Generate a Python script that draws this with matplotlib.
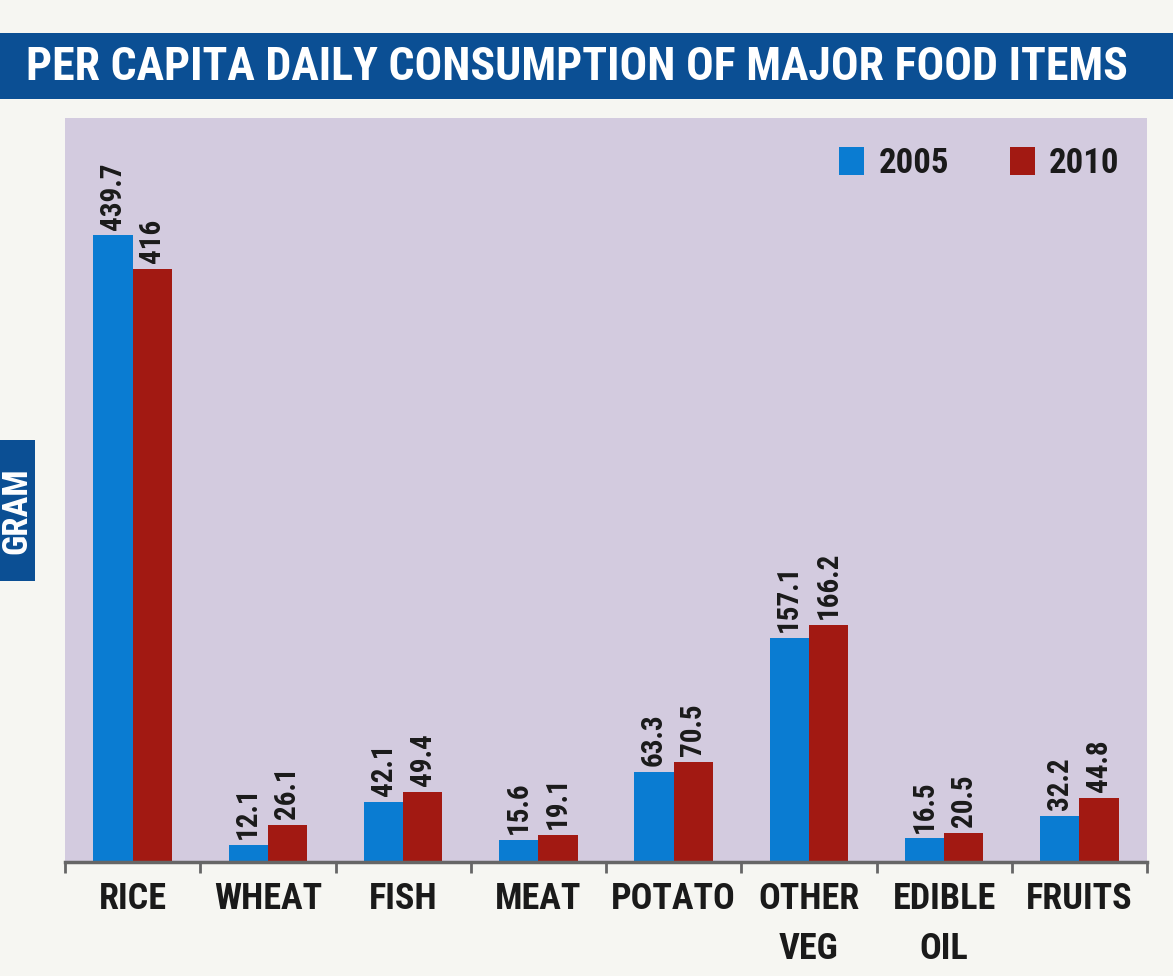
import matplotlib.pyplot as plt
from matplotlib.patches import Rectangle

categories = ['RICE', 'WHEAT', 'FISH', 'MEAT', 'POTATO', 'OTHER\nVEG', 'EDIBLE\nOIL', 'FRUITS']
values_2005 = [439.7, 12.1, 42.1, 15.6, 63.3, 157.1, 16.5, 32.2]
values_2010 = [416, 26.1, 49.4, 19.1, 70.5, 166.2, 20.5, 44.8]
labels_2005 = ['439.7', '12.1', '42.1', '15.6', '63.3', '157.1', '16.5', '32.2']
labels_2010 = ['416', '26.1', '49.4', '19.1', '70.5', '166.2', '20.5', '44.8']

blue = '#0a7cd2'
red = '#a21912'
navy = '#0b4f94'
font = ['Roboto Condensed', 'Archivo Narrow', 'Asap Condensed', 'DejaVu Sans']

fig = plt.figure(figsize=(11.73, 9.76), dpi=100)
fig.patch.set_facecolor('#f6f6f2')

# title bar
fig.patches.append(Rectangle((0, 1 - 99 / 976), 1, 66 / 976, transform=fig.transFigure,
                             facecolor=navy, edgecolor='none'))
fig.text(577 / 1173, 1 - 67 / 976, 'PER CAPITA DAILY CONSUMPTION OF MAJOR FOOD ITEMS',
         color='white', fontsize=33, fontweight='bold', family=font, ha='center', va='center')

# y label box
fig.patches.append(Rectangle((0, 1 - 581 / 976), 35 / 1173, 141 / 976, transform=fig.transFigure,
                             facecolor=navy, edgecolor='none'))
fig.text(17 / 1173, 1 - 511 / 976, 'GRAM', color='white', fontsize=25, fontweight='bold',
         family=font, rotation=90, ha='center', va='center')

ax = fig.add_axes([65 / 1173, 1 - 862 / 976, 1082 / 1173, 744 / 976])
ax.set_facecolor('#d3cbdf')

x = range(len(categories))
w = 0.29
bars1 = ax.bar([i - w / 2 for i in x], values_2005, w, color=blue, label='2005')
bars2 = ax.bar([i + w / 2 for i in x], values_2010, w, color=red, label='2010')

for bars, labs in [(bars1, labels_2005), (bars2, labels_2010)]:
    for b, t in zip(bars, labs):
        ax.text(b.get_x() + b.get_width() / 2, b.get_height() + 4, t, rotation=90,
                ha='center', va='bottom', fontsize=21, fontweight='bold', family=font,
                color='#1a1a1a')

ax.set_xlim(-0.5, 7.5)
ax.set_ylim(0, 522)
ax.set_yticks([])
ax.set_xticks([i + 0.5 for i in range(-1, 8)], minor=False)
ax.set_xticklabels([])
ax.set_xticks(list(x), minor=True)
ax.set_xticklabels(categories, minor=True, fontsize=26, fontweight='bold', family=font,
                   color='#1a1a1a', linespacing=1.5, va='top')
ax.tick_params(axis='x', which='major', length=8, width=2, color='#666666', direction='out')
ax.tick_params(axis='x', which='minor', length=0, pad=14)
for s in ['top', 'right', 'left']:
    ax.spines[s].set_visible(False)
ax.spines['bottom'].set_color('#666666')
ax.spines['bottom'].set_linewidth(2.5)

leg = ax.legend(loc='upper right', ncol=2, frameon=False, handlelength=0.72, handleheight=0.85,
                columnspacing=1.75, handletextpad=0.4, bbox_to_anchor=(1.003, 1.003),
                prop={'family': font, 'weight': 'bold', 'size': 25})
for t in leg.get_texts():
    t.set_color('#1a1a1a')

fig.savefig('out.png', dpi=100, facecolor=fig.get_facecolor())
